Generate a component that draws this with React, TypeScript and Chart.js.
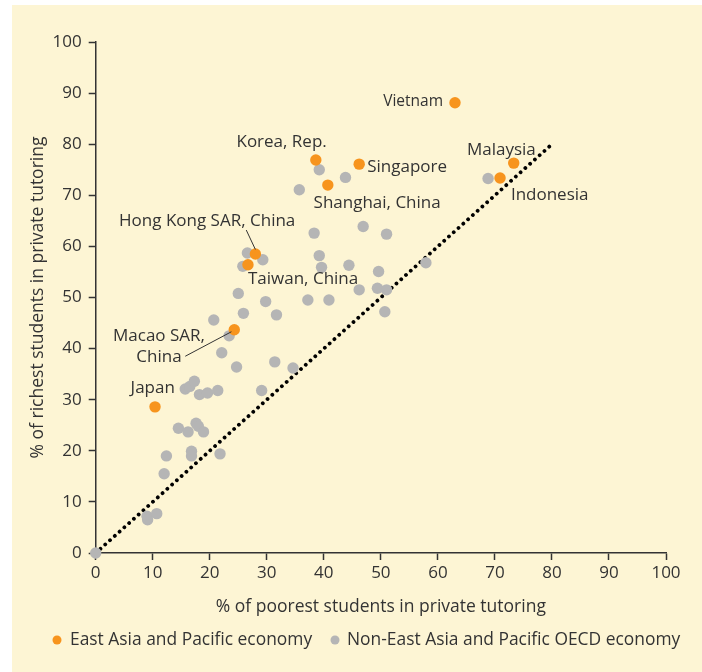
import React, { useEffect, useRef } from "react";
import { Chart, registerables } from "chart.js";

Chart.register(...registerables);

// ---- Data ----
const eastAsiaNames = [
  "Vietnam", "Korea, Rep.", "Singapore", "Shanghai, China", "Malaysia",
  "Indonesia", "Hong Kong SAR, China", "Taiwan, China", "Macao SAR, China", "Japan",
];
const eastAsiaPoorest = [63.0, 38.6, 46.2, 40.7, 73.3, 70.9, 28.0, 26.7, 24.3, 10.4];
const eastAsiaRichest = [88.1, 76.9, 76.1, 72.0, 76.3, 73.4, 58.5, 56.4, 43.7, 28.6];

const oecdPoorest = [
  0, 9.0, 9.1, 10.7, 12.0, 12.4, 14.5, 16.2, 17.6, 18.0, 18.9, 16.8, 16.8, 21.8,
  15.7, 16.5, 17.3, 18.2, 19.6, 21.4, 29.1, 25.0, 29.8, 25.9, 31.7, 20.7, 23.4,
  22.1, 24.7, 31.4, 34.6, 25.8, 26.6, 29.3, 39.2, 43.8, 35.7, 68.8, 38.3, 46.9,
  51.0, 39.2, 39.6, 44.4, 49.6, 57.9, 37.2, 40.9, 46.2, 49.4, 51.0, 50.7,
];
const oecdRichest = [
  0, 7.2, 6.5, 7.7, 15.5, 19.0, 24.4, 23.7, 25.4, 24.8, 23.7, 19.9, 19.0, 19.4,
  32.1, 32.6, 33.6, 31.0, 31.3, 31.8, 31.8, 50.8, 49.2, 46.9, 46.6, 45.6, 42.5,
  39.2, 36.4, 37.4, 36.2, 56.1, 58.7, 57.4, 75.0, 73.5, 71.1, 73.3, 62.6, 63.9,
  62.4, 58.2, 55.9, 56.3, 55.1, 56.8, 49.5, 49.5, 51.5, 51.8, 51.5, 47.2,
];

const parityX = [0, 80];
const parityY = [0, 80];

const legendLabels = ["East Asia and Pacific economy", "Non-East Asia and Pacific OECD economy"];
const xTitle = "% of poorest students in private tutoring";
const yTitle = "% of richest students in private tutoring";

// label annotations (anchor in data units)
const annotations = [
  { lines: ["Vietnam"], x: 60.9, y: 88.3, align: "right", size: 15.5 },
  { lines: ["Korea, Rep."], x: 32.6, y: 80.4, align: "center", size: 17 },
  { lines: ["Singapore"], x: 47.6, y: 75.6, align: "left", size: 17 },
  { lines: ["Shanghai, China"], x: 38.2, y: 68.5, align: "left", size: 17 },
  { lines: ["Malaysia"], x: 65.1, y: 78.9, align: "left", size: 17 },
  { lines: ["Indonesia"], x: 72.8, y: 70.1, align: "left", size: 17 },
  { lines: ["Hong Kong SAR, China"], x: 4.1, y: 64.9, align: "left", size: 17 },
  { lines: ["Taiwan, China"], x: 26.7, y: 53.6, align: "left", size: 17 },
  { lines: ["Macao SAR,", "China"], x: 11.1, y: 42.4, align: "center", size: 17 },
  { lines: ["Japan"], x: 10.0, y: 32.3, align: "center", size: 17 },
];
const leaders = [
  { x1: 26.4, y1: 63.2, x2: 28.0, y2: 59.4 },
  { x1: 15.7, y1: 38.5, x2: 23.8, y2: 43.3 },
];

const ORANGE = "#f7941d";
const GREY = "#b5b5b5";
const TEXT = "#333333";
const CREAM = "#fdf5d4";
const FONT = "'Open Sans', sans-serif";

const overlayPlugin = {
  id: "overlay",
  afterDatasetsDraw(chart: any) {
    const { ctx } = chart;
    const xs = chart.scales.x;
    const ys = chart.scales.y;
    ctx.save();
    ctx.strokeStyle = TEXT;
    ctx.lineWidth = 1;
    for (const l of leaders) {
      ctx.beginPath();
      ctx.moveTo(xs.getPixelForValue(l.x1), ys.getPixelForValue(l.y1));
      ctx.lineTo(xs.getPixelForValue(l.x2), ys.getPixelForValue(l.y2));
      ctx.stroke();
    }
    ctx.fillStyle = TEXT;
    ctx.textBaseline = "middle";
    for (const a of annotations) {
      ctx.font = `${a.size}px ${FONT}`;
      ctx.textAlign = a.align as CanvasTextAlign;
      const px = xs.getPixelForValue(a.x);
      const py = ys.getPixelForValue(a.y);
      a.lines.forEach((line, i) => ctx.fillText(line, px, py + i * 21));
    }
    // legend
    ctx.font = `17.4px ${FONT}`;
    ctx.textAlign = "left";
    const ly = 640;
    const items = [
      { color: ORANGE, dot: 57, text: 70, label: legendLabels[0] },
      { color: GREY, dot: 335, text: 347, label: legendLabels[1] },
    ];
    for (const it of items) {
      ctx.fillStyle = it.color;
      ctx.beginPath();
      ctx.arc(it.dot, ly, 4.5, 0, Math.PI * 2);
      ctx.fill();
      ctx.fillStyle = TEXT;
      ctx.fillText(it.label, it.text, ly);
    }
    ctx.restore();
  },
};

export default function App() {
  const ref = useRef<HTMLCanvasElement>(null);
  useEffect(() => {
    document.body.style.margin = "0";
    if (!ref.current) return;
    Chart.defaults.font.family = FONT;
    const chart = new Chart(ref.current, {
      type: "scatter",
      data: {
        datasets: [
          {
            label: legendLabels[0],
            data: eastAsiaPoorest.map((v, i) => ({ x: v, y: eastAsiaRichest[i] })),
            backgroundColor: ORANGE,
            borderWidth: 0,
            pointRadius: 5.7,
            order: 1,
            clip: false,
          } as any,
          {
            label: legendLabels[1],
            data: oecdPoorest.map((v, i) => ({ x: v, y: oecdRichest[i] })),
            backgroundColor: GREY,
            borderWidth: 0,
            pointRadius: 5.7,
            order: 2,
            clip: false,
          } as any,
          {
            type: "line",
            label: "parity",
            data: parityX.map((v, i) => ({ x: v, y: parityY[i] })),
            borderColor: "#000",
            borderWidth: 3.8,
            borderDash: [0.01, 6.4],
            borderCapStyle: "round",
            pointRadius: 0,
            fill: false,
            order: 3,
          } as any,
        ],
      },
      options: {
        animation: false,
        responsive: false,
        layout: { padding: { top: 42, right: 36, left: 0, bottom: 0 } },
        plugins: { legend: { display: false }, tooltip: { enabled: false } },
        scales: {
          x: {
            type: "linear",
            min: 0,
            max: 100,
            ticks: { stepSize: 10, color: TEXT, font: { size: 17 }, padding: 3 },
            grid: { drawOnChartArea: false, tickLength: 7, color: TEXT, tickWidth: 1.5 },
            border: { color: TEXT, width: 1.5 },
            title: {
              display: true,
              text: xTitle,
              color: TEXT,
              font: { size: 17.5 },
              padding: { top: 0, bottom: 54.5 },
            },
            afterFit: (s: any) => {
              s.height = 119;
            },
          },
          y: {
            type: "linear",
            min: 0,
            max: 100,
            ticks: { stepSize: 10, color: TEXT, font: { size: 17 }, padding: 7 },
            grid: { drawOnChartArea: false, tickLength: 7, color: TEXT, tickWidth: 1.5 },
            border: { color: TEXT, width: 1.5 },
            title: {
              display: true,
              text: yTitle,
              color: TEXT,
              font: { size: 17.5 },
              padding: { top: 27.5, bottom: 0 },
            },
            afterFit: (s: any) => {
              s.width = 95.7;
            },
          },
        },
      },
      plugins: [overlayPlugin],
    });
    return () => chart.destroy();
  }, []);

  return (
    <div style={{ position: "relative", width: 702, height: 672, background: "#fff" }}>
      <div style={{ position: "absolute", left: 12, top: 5, right: 0, bottom: 0, background: CREAM }} />
      <canvas ref={ref} width={702} height={672} style={{ position: "absolute", left: 0, top: 0 }} />
    </div>
  );
}
